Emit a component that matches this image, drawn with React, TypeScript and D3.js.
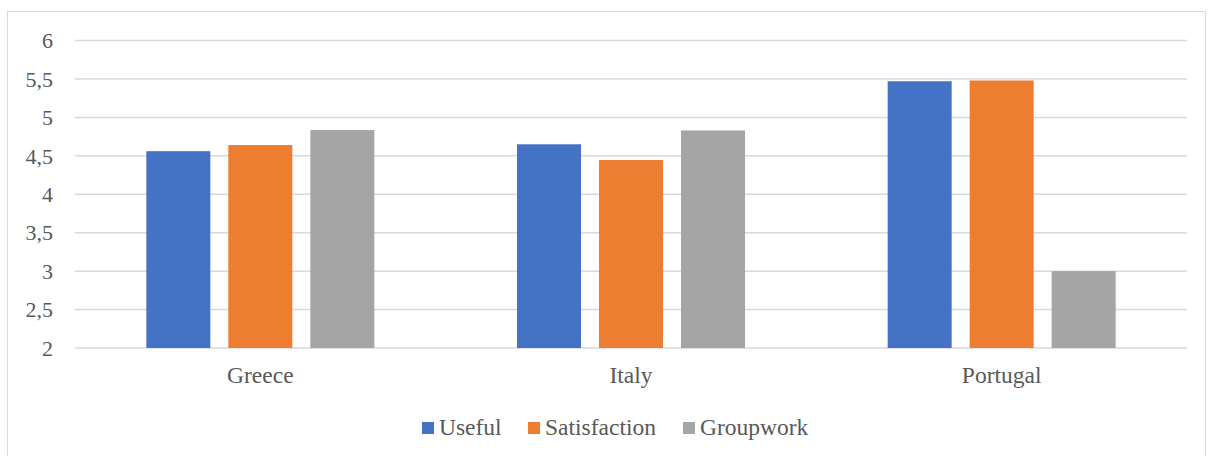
import React from "react";
import * as d3 from "d3";

const categories = ["Greece", "Italy", "Portugal"];
const seriesNames = ["Useful", "Satisfaction", "Groupwork"];
const useful = [4.56, 4.65, 5.47];
const satisfaction = [4.64, 4.445, 5.48];
const groupwork = [4.835, 4.83, 3.0];
const yTicks = [2, 2.5, 3, 3.5, 4, 4.5, 5, 5.5, 6];
const colors = ["#4472C4", "#ED7D31", "#A5A5A5"];

const W = 1212;
const H = 456;
const plot = { left: 75, right: 1187, top: 40.5, bottom: 348 };
const textColor = "#595959";
const textStyle: React.CSSProperties = { fontFamily: "'Liberation Serif', 'Times New Roman', serif" };

export default function App() {
  const series = [useful, satisfaction, groupwork];
  const x0 = d3.scaleBand<string>().domain(categories).range([plot.left, plot.right]).padding(0);
  const barW = 64;
  const gap = 18;
  const groupW = barW * 3 + gap * 2;
  const y = d3.scaleLinear().domain([2, 6]).range([plot.bottom, plot.top]);
  const fmt = (v: number) => String(v).replace(".", ",");

  const legendItems = [
    { name: seriesNames[0], sq: 422, tx: 439 },
    { name: seriesNames[1], sq: 528, tx: 545 },
    { name: seriesNames[2], sq: 683, tx: 700 },
  ];

  return (
    <svg width={W} height={H} style={{ position: "absolute", left: 0, top: 0, background: "#fff" }}>
      <rect x={7.5} y={11.5} width={1198} height={460} fill="#fff" stroke="#D9D9D9" strokeWidth={1} />
      {yTicks.map((t) => (
        <g key={t}>
          <line x1={plot.left} x2={plot.right} y1={y(t)} y2={y(t)} stroke="#D9D9D9" strokeWidth={1.5} />
          <text x={53} y={y(t)} dy="0.35em" textAnchor="end" style={textStyle} fontSize={22} fill={textColor}>
            {fmt(t)}
          </text>
        </g>
      ))}
      {categories.map((c, ci) => {
        const cx = (x0(c) as number) + x0.bandwidth() / 2;
        const start = cx - groupW / 2;
        return (
          <g key={c}>
            {series.map((s, si) => (
              <rect
                key={si}
                x={start + si * (barW + gap)}
                y={y(s[ci])}
                width={barW}
                height={y(2) - y(s[ci])}
                fill={colors[si]}
              />
            ))}
            <text x={cx} y={383} textAnchor="middle" style={textStyle} fontSize={23.5} fill={textColor}>
              {c}
            </text>
          </g>
        );
      })}
      {legendItems.map((l, i) => (
        <g key={l.name}>
          <rect x={l.sq} y={422} width={12} height={12} fill={colors[i]} />
          <text x={l.tx} y={435} style={textStyle} fontSize={23.5} fill={textColor}>
            {l.name}
          </text>
        </g>
      ))}
    </svg>
  );
}
